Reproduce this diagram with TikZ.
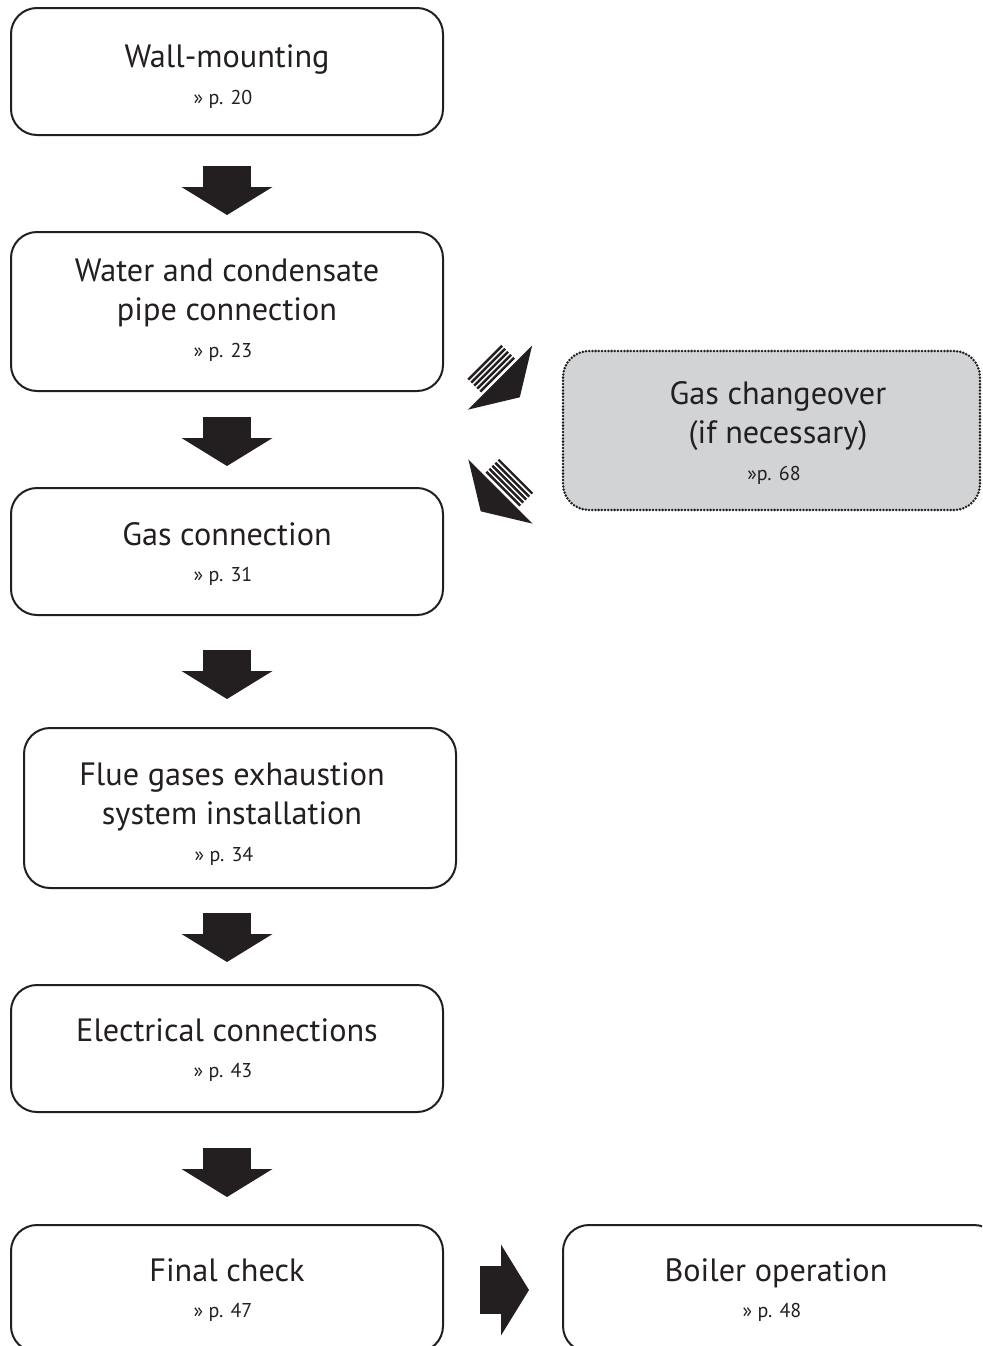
\documentclass[tikz,border=0pt]{standalone}
\usepackage{fontspec}
\setmainfont{PT Sans}
\definecolor{ink}{HTML}{231F20}
\definecolor{panel}{HTML}{D1D3D4}
\tikzset{
  box/.style={draw=ink, line width=1.5pt, rounded corners=19.5pt, minimum width=324pt, inner sep=0pt},
  optbox/.style={box, fill=panel, dash pattern=on 0pt off 2.4pt, line cap=round, line width=2.1pt},
  title/.style={anchor=base, text=ink, font=\fontsize{24.2}{29}\selectfont, inner sep=0pt},
  pref/.style={anchor=base, text=ink, font=\fontsize{15}{18}\selectfont, inner sep=0pt},
  blockarrow/.pic={
    \fill[ink] (-21,-24) rectangle (0,24);
    \fill[ink] (0,-45.5) -- (28,0) -- (0,45.5) -- cycle;
  },
  stripedarrow/.pic={
    \fill[ink] (0,-45.5) -- (28,0) -- (0,45.5) -- cycle;
    \foreach \d in {4,8.25,12.5,16.75,21}
      \draw[ink, line width=1.8pt] (-\d,-24) -- (-\d,24);
  }
}
\begin{document}
\begin{tikzpicture}[x=0.75pt,y=-0.75pt]
\useasboundingbox (0,0) rectangle (982,1346);
\clip (0,0) rectangle (982,1346);

% boxes
\node[box, minimum height=95.25pt] (wall) at (227,71.5) {};
\node[box, minimum height=119.25pt] (water) at (227,311.5) {};
\node[box, minimum height=95.25pt] (gas) at (227,551.5) {};
\node[box, minimum height=120pt] (flue) at (240,808) {};
\node[box, minimum height=95.25pt] (elec) at (227,1048.5) {};
\node[box, minimum height=95.25pt] (final) at (227,1288.5) {};
\node[box, minimum width=327.75pt, minimum height=95.25pt] (boiler) at (781.5,1288.5) {};
\node[optbox, minimum width=312.75pt, minimum height=119.25pt] (change) at (771.5,430.5) {};

% texts
\node[title] (wallT) at (227,67.5) {Wall-mounting};
\node[pref] (wallR) at (223,104) {» p. 20};

\node[title] (waterT1) at (227,281.5) {Water and condensate};
\node[title] (waterT2) at (227,320.5) {pipe connection};
\node[pref] (waterR) at (223,357) {» p. 23};

\node[title] (gasT) at (227,545.5) {Gas connection};
\node[pref] (gasR) at (223,581) {» p. 31};

\node[title] (flueT1) at (232,785.5) {Flue gases exhaustion};
\node[title] (flueT2) at (232,824.5) {system installation};
\node[pref] (flueR) at (224,861) {» p. 34};

\node[title] (elecT) at (227,1041.5) {Electrical connections};
\node[pref] (elecR) at (223,1077) {» p. 43};

\node[title] (finalT) at (227,1281.5) {Final check};
\node[pref] (finalR) at (223,1317) {» p. 47};

\node[title] (boilerT) at (776,1281.5) {Boiler operation};
\node[pref] (boilerR) at (772,1317) {» p. 48};

\node[title] (changeT1) at (778,404.5) {Gas changeover};
\node[title] (changeT2) at (778,443.5) {(if necessary)};
\node[pref] (changeR) at (774,480) {»p. 68};

% arrows
\pic[rotate=-90] (a1) at (227,187) {blockarrow};
\pic[rotate=-90] (a2) at (227,438) {blockarrow};
\pic[rotate=-90] (a3) at (227,671) {blockarrow};
\pic[rotate=-90] (a4) at (227,934) {blockarrow};
\pic[rotate=-90] (a5) at (227,1169) {blockarrow};
\pic (a6) at (501,1290) {blockarrow};
\pic[rotate=-45] (s1) at (500,377.5) {stripedarrow};
\pic[rotate=-135] (s2) at (500.5,491.5) {stripedarrow};
\end{tikzpicture}
\end{document}
